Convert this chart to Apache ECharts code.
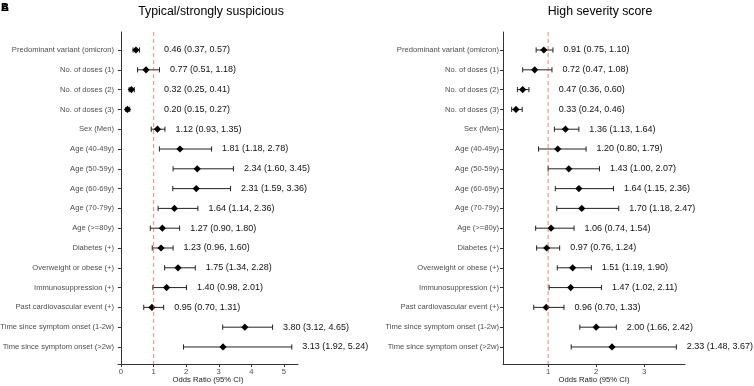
<!DOCTYPE html>
<html>
<head>
<meta charset="utf-8">
<script src="https://cdn.jsdelivr.net/npm/echarts@6/dist/echarts.min.js"></script>
<style>
  html, body { margin: 0; padding: 0; background: #fff; }
  #chart { width: 754px; height: 386px; }
</style>
</head>
<body>
<div id="chart"></div>
<script>
// row labels, top to bottom
var labels = ['Predominant variant (omicron)', 'No. of doses (1)', 'No. of doses (2)', 'No. of doses (3)',
  'Sex (Men)', 'Age (40-49y)', 'Age (50-59y)', 'Age (60-69y)', 'Age (70-79y)', 'Age (>=80y)',
  'Diabetes (+)', 'Overweight or obese (+)', 'Immunosuppression (+)', 'Past cardiovascular event (+)',
  'Time since symptom onset (1-2w)', 'Time since symptom onset (>2w)'];

// typical / strongly suspicious
var typOR = [0.46, 0.77, 0.32, 0.20, 1.12, 1.81, 2.34, 2.31, 1.64, 1.27, 1.23, 1.75, 1.40, 0.95, 3.80, 3.13];
var typLo = [0.37, 0.51, 0.25, 0.15, 0.93, 1.18, 1.60, 1.59, 1.14, 0.90, 0.96, 1.34, 0.98, 0.70, 3.12, 1.92];
var typHi = [0.57, 1.18, 0.41, 0.27, 1.35, 2.78, 3.45, 3.36, 2.36, 1.80, 1.60, 2.28, 2.01, 1.31, 4.65, 5.24];

// high severity score
var sevOR = [0.91, 0.72, 0.47, 0.33, 1.36, 1.20, 1.43, 1.64, 1.70, 1.06, 0.97, 1.51, 1.47, 0.96, 2.00, 2.33];
var sevLo = [0.75, 0.47, 0.36, 0.24, 1.13, 0.80, 1.00, 1.15, 1.18, 0.74, 0.76, 1.19, 1.02, 0.70, 1.66, 1.48];
var sevHi = [1.10, 1.08, 0.60, 0.46, 1.64, 1.79, 2.07, 2.36, 2.47, 1.54, 1.24, 1.90, 2.11, 1.33, 2.42, 3.67];

var typTicks = [0, 1, 2, 3, 4, 5];
var sevTicks = [1, 2, 3];
var refValue = 1;

var FONT = '"Liberation Sans", Arial, sans-serif';
var yMin = 0.09, yMax = 16.86;
var rowIdx = labels.map(function (l, i) { return i + 1; });

function xAxisFor(gi, min, max, ticks) {
  return {
    type: 'value', gridIndex: gi, min: min, max: max,
    splitLine: { show: false },
    axisLine: { lineStyle: { color: '#333', width: 1 } },
    axisTick: { length: 3, customValues: ticks, lineStyle: { color: '#333' } },
    axisLabel: { customValues: ticks, margin: 4, fontSize: 7.7, color: '#4d4d4d', fontFamily: FONT },
    name: 'Odds Ratio (95% CI)', nameLocation: 'middle', nameGap: 12, nameMoveOverlap: false,
    nameTextStyle: { fontSize: 7.7, color: '#222', fontFamily: FONT }
  };
}

function yAxisFor(gi) {
  return {
    type: 'value', gridIndex: gi, min: yMin, max: yMax, inverse: true,
    splitLine: { show: false },
    axisLine: { show: true, lineStyle: { color: '#333', width: 1 } },
    axisTick: { show: true, length: 3, customValues: rowIdx, lineStyle: { color: '#333' } },
    axisLabel: {
      customValues: rowIdx, margin: 4, fontSize: 7.6, color: '#4d4d4d', fontFamily: FONT,
      formatter: function (v) { return labels[Math.round(v) - 1] || ''; }
    }
  };
}

function forestSeries(gi, orArr, loArr, hiArr) {
  return {
    type: 'custom', xAxisIndex: gi, yAxisIndex: gi, clip: false, z: 2,
    data: labels.map(function (l, i) { return [orArr[i], loArr[i], hiArr[i], i + 1]; }),
    encode: { x: [0, 1, 2], y: 3 },
    renderItem: function (params, api) {
      var y = api.value(3);
      var pOr = api.coord([api.value(0), y]);
      var pLo = api.coord([api.value(1), y]);
      var pHi = api.coord([api.value(2), y]);
      var pLab = api.coord([Math.max(api.value(2), refValue), y]);
      var cap = 2.6, d = 3.6;
      var txt = api.value(0).toFixed(2) + ' (' + api.value(1).toFixed(2) + ', ' + api.value(2).toFixed(2) + ')';
      var stroke = { stroke: '#222', lineWidth: 1 };
      return {
        type: 'group',
        children: [
          { type: 'line', shape: { x1: pLo[0], y1: pLo[1], x2: pHi[0], y2: pHi[1] }, style: stroke },
          { type: 'line', shape: { x1: pLo[0], y1: pLo[1] - cap, x2: pLo[0], y2: pLo[1] + cap }, style: stroke },
          { type: 'line', shape: { x1: pHi[0], y1: pHi[1] - cap, x2: pHi[0], y2: pHi[1] + cap }, style: stroke },
          { type: 'polygon', shape: { points: [[pOr[0], pOr[1] - d], [pOr[0] + d, pOr[1]], [pOr[0], pOr[1] + d], [pOr[0] - d, pOr[1]]] },
            style: { fill: '#000' } },
          { type: 'text', x: pLab[0] + 10.5, y: pLab[1],
            style: { text: txt, fill: '#111', fontSize: 9, fontFamily: FONT, align: 'left', verticalAlign: 'middle' } }
        ]
      };
    }
  };
}

// dashed reference line at OR = 1, drawn above the markers
function refLine(gi) {
  return {
    type: 'custom', xAxisIndex: gi, yAxisIndex: gi, z: 5, silent: true, clip: false,
    data: [[refValue]],
    encode: { x: 0 },
    renderItem: function (params, api) {
      var a = api.coord([api.value(0), yMin]);
      var b = api.coord([api.value(0), yMax]);
      return {
        type: 'line',
        shape: { x1: a[0], y1: a[1], x2: b[0], y2: b[1] },
        style: { stroke: 'rgba(235,60,60,0.55)', lineWidth: 1.2, lineDash: [4, 3] }
      };
    }
  };
}

var chart = echarts.init(document.getElementById('chart'), null, { renderer: 'canvas' });
chart.setOption({
  backgroundColor: '#fff',
  animation: false,
  title: [
    { text: 'Typical/strongly suspicious', left: 206, top: 1, textAlign: 'center',
      textStyle: { fontSize: 12.3, fontWeight: 'normal', color: '#000', fontFamily: FONT } },
    { text: 'High severity score', left: 595, top: 1, textAlign: 'center',
      textStyle: { fontSize: 12.3, fontWeight: 'normal', color: '#000', fontFamily: FONT } }
  ],
  graphic: [
    { type: 'text', left: 1, top: 2, style: { text: 'A', fontSize: 11, fontWeight: 'bold', fill: '#000', fontFamily: FONT } },
    { type: 'text', left: 1, top: 2, style: { text: 'B', fontSize: 11, fontWeight: 'bold', fill: '#000', fontFamily: FONT } }
  ],
  grid: [
    { left: 118, top: 32, width: 180, height: 332, containLabel: false, outerBoundsMode: 'none' },
    { left: 503, top: 32, width: 182, height: 332, containLabel: false, outerBoundsMode: 'none' }
  ],
  xAxis: [xAxisFor(0, -0.09, 5.43, typTicks), xAxisFor(1, 0.06, 3.85, sevTicks)],
  yAxis: [yAxisFor(0), yAxisFor(1)],
  series: [
    forestSeries(0, typOR, typLo, typHi),
    forestSeries(1, sevOR, sevLo, sevHi),
    refLine(0),
    refLine(1)
  ]
});
</script>
</body>
</html>
